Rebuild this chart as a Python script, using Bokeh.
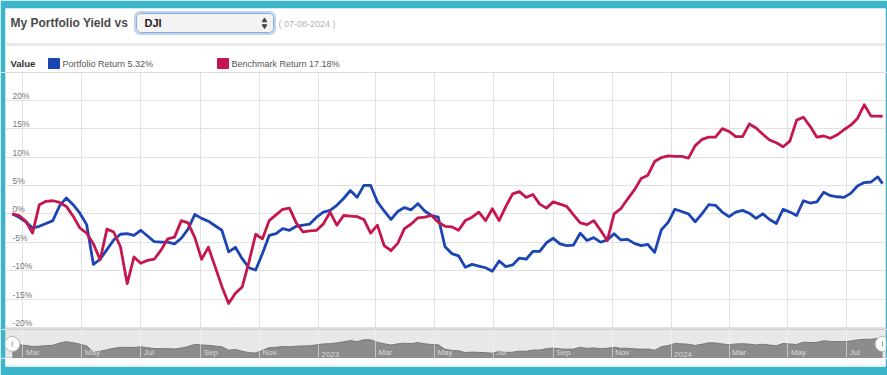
import pandas as pd
from bokeh.plotting import figure
from bokeh.layouts import column
from bokeh.models import Range1d, Grid, FixedTicker, ColumnDataSource
from bokeh.core.properties import value
from bokeh.embed import file_html
from bokeh.resources import INLINE

# ---------------- data ----------------
title_text = "My Portfolio Yield vs"
benchmark_symbol = "DJI"
as_of_text = "( 07-08-2024 )"
series_names = ["Portfolio Return", "Benchmark Return"]

first_week = "2022-02-18"
n_weeks = 129
last_date = "2024-08-07"
dates = list(pd.date_range(first_week, periods=n_weeks, freq="7D")) + [pd.Timestamp(last_date)]

portfolio = [
    0.0, -0.6, -1.4, -2.5, -2.2, -1.7, -1.2, 1.4, 2.8, 1.6,
    0.1, -1.9, -8.9, -8.0, -6.3, -4.6, -3.6, -3.5, -3.8, -2.9,
    -3.9, -4.9, -5.0, -5.0, -5.3, -4.3, -2.7, -0.1, -0.8, -1.3,
    -2.1, -2.9, -6.7, -5.9, -7.9, -9.5, -9.9, -7.0, -3.8, -3.5,
    -2.6, -2.9, -2.2, -2.0, -1.8, -0.6, 0.3, 0.6, 1.5, 2.7,
    4.1, 2.9, 5.0, 5.0, 2.1, 0.5, -1.0, 0.4, 1.1, 0.7,
    1.8, 0.5, -0.3, -0.6, -5.8, -7.0, -7.4, -9.4, -8.9, -9.2,
    -9.5, -10.1, -8.3, -9.3, -9.0, -7.8, -8.0, -6.6, -6.6, -5.1,
    -4.3, -5.3, -5.6, -5.5, -3.4, -4.7, -4.2, -5.0, -4.6, -3.5,
    -4.6, -4.5, -5.2, -5.6, -5.4, -6.8, -2.8, -1.5, 0.8, 0.4,
    0.0, -1.4, 0.0, 1.6, 1.5, 0.3, -0.5, 0.3, 0.6, 0.1,
    -0.8, 0.0, -1.0, -1.7, 0.8, 0.3, -0.3, 2.3, 1.9, 2.1,
    3.8, 3.2, 3.0, 2.9, 3.6, 4.9, 5.5, 5.6, 6.5, 5.32,
]

benchmark = [
    0.0, -0.3, -1.3, -3.4, 1.6, 2.2, 2.3, 2.0, 1.3, -0.4,
    -2.5, -3.4, -5.3, -8.1, -2.7, -3.2, -5.8, -12.3, -7.6, -8.7,
    -8.2, -8.0, -6.4, -4.4, -4.1, -1.2, -1.6, -4.2, -8.0, -5.9,
    -9.3, -12.8, -15.8, -14.0, -12.9, -8.5, -3.6, -4.4, -1.2, -0.2,
    0.8, 1.0, -1.6, -3.2, -3.0, -2.9, -1.8, 0.3, -2.0, -0.3,
    -0.4, -0.5, -1.0, -3.4, -2.0, -5.6, -6.5, -5.2, -2.6, -1.8,
    -0.7, -0.6, -0.3, -1.5, -2.2, -2.3, -2.9, -1.2, -0.6, 0.3,
    -1.2, 0.9, -1.2, 1.3, 3.5, 3.9, 2.9, 3.4, 1.7, 1.0,
    2.1, 1.7, 1.3, -0.2, -1.6, -1.9, -1.2, -2.9, -4.7, 0.0,
    0.9, 2.6, 4.2, 6.2, 6.8, 9.2, 9.9, 10.2, 10.1, 10.1,
    9.8, 12.0, 13.1, 13.5, 13.5, 15.0, 14.5, 13.6, 13.6, 15.8,
    15.1, 14.0, 13.0, 12.5, 11.8, 12.8, 16.5, 17.0, 15.4, 13.5,
    13.7, 13.3, 13.9, 14.8, 15.6, 16.8, 19.2, 17.2, 17.2, 17.18,
]

y_ticks = [-20, -15, -10, -5, 0, 5, 10, 15, 20]
y_tick_labels = ["-20%", "-15%", "-10%", "-5%", "0%", "5%", "10%", "15%", "20%"]

month_tick_dates = [
    "2022-03-01", "2022-05-01", "2022-07-01", "2022-09-01", "2022-11-01",
    "2023-01-01", "2023-03-01", "2023-05-01", "2023-07-01", "2023-09-01",
    "2023-11-01", "2024-01-01", "2024-03-01", "2024-05-01", "2024-07-01",
]
month_tick_labels = ["Mar", "May", "Jul", "Sep", "Nov", "2023", "Mar", "May",
                     "Jul", "Sep", "Nov", "2024", "Mar", "May", "Jul"]

view_start, view_end = "2022-02-11", "2024-08-10"

# ---------------- style ----------------
TEAL = "#3ab5c9"
BLUE = "#1c45b4"
RED = "#c5174e"
GRID = "#e2e2e2"
FONT = value("Liberation Sans")


def ms(d):
    return int(pd.Timestamp(d).timestamp() * 1000)


def no_default_grids(p):
    p.center = [r for r in p.center if not isinstance(r, Grid)]
    return p


month_ms = [ms(d) for d in month_tick_dates]
xr = Range1d(start=ms(view_start), end=ms(view_end))

common = dict(width=887, toolbar_location=None, output_backend="svg",
              min_border_left=5, min_border_right=2, border_fill_color=TEAL,
              x_axis_location=None, y_axis_location=None, title=None)

src = ColumnDataSource(dict(date=dates, portfolio=portfolio, benchmark=benchmark))

# ---------------- header ----------------
hdr = no_default_grids(figure(height=72, min_border_top=8, min_border_bottom=0,
                              x_range=Range1d(5, 885), y_range=Range1d(72, 8),
                              background_fill_color="white", outline_line_color=None, **common))

hdr.segment(x0=[5], y0=[44], x1=[885], y1=[44], line_color="#e9e9e9", line_width=3)
hdr.text(x=[10], y=[22.5], text=[title_text], text_font=FONT, text_font_style="bold",
         text_font_size="12px", text_color="#4a4a4a", text_baseline="middle")
hdr.quad(left=[134.5], right=[274.5], top=[11.5], bottom=[33.5], fill_alpha=0,
         line_color="#bcd4ef", line_width=2, border_radius=5)
hdr.quad(left=[136], right=[273], top=[13], bottom=[32], fill_color="#f3f3f3",
         line_color="#8eaad6", line_width=1, border_radius=4)
hdr.text(x=[144], y=[22.5], text=[benchmark_symbol], text_font=FONT, text_font_style="bold",
         text_font_size="11px", text_color="#222222", text_baseline="middle")
hdr.scatter(x=[264, 264], y=[20, 25.5], marker=["triangle", "inverted_triangle"],
            size=4.5, fill_color="#444444", line_color="#444444")
hdr.text(x=[278], y=[23], text=[as_of_text], text_font=FONT, text_font_size="9px",
         text_color="#b3b3b3", text_baseline="middle")

hdr.text(x=[10], y=[63], text=["Value"], text_font=FONT, text_font_style="bold",
         text_font_size="9.5px", text_color="#333333", text_baseline="middle")
hdr.quad(left=[48, 217], right=[59, 228], top=[58, 58], bottom=[68, 68],
         fill_color=[BLUE, RED], line_color=[BLUE, RED])
legend_texts = [f"{series_names[0]}  {portfolio[-1]:.2f}%",
                f"{series_names[1]}  {benchmark[-1]:.2f}%"]
hdr.text(x=[62, 231], y=[63, 63], text=legend_texts, text_font=FONT,
         text_font_size="9px", text_color="#555555", text_baseline="middle")

# ---------------- main chart ----------------
main = no_default_grids(figure(height=257, min_border_top=0, min_border_bottom=0,
                               x_range=xr, y_range=Range1d(-20.37, 24.88),
                               background_fill_color="white", outline_line_color="#dcdcdc",
                               **common))
main.add_layout(Grid(dimension=0, ticker=FixedTicker(ticks=month_ms), grid_line_color=GRID))
main.add_layout(Grid(dimension=1, ticker=FixedTicker(ticks=y_ticks), grid_line_color=GRID))

main.text(x=[xr.start] * len(y_ticks), y=y_ticks, text=y_tick_labels, x_offset=7, y_offset=-4.5,
          text_font=FONT, text_font_size="8.5px", text_color="#777777", text_baseline="middle")

main.line("date", "portfolio", source=src, line_color=BLUE, line_width=2.8, line_join="round")
main.line("date", "benchmark", source=src, line_color=RED, line_width=2.8, line_join="round")

# ---------------- navigator ----------------
nav_range = Range1d(-16.1, 16.6)
nav = no_default_grids(figure(height=29, min_border_top=0, min_border_bottom=0,
                              x_range=xr, y_range=nav_range,
                              background_fill_color="#e8e8e8", outline_line_color="#d0d0d0",
                              **common))
nav.varea(x="date", y1=nav_range.start, y2="portfolio", source=src, fill_color="#8c8c8c")
nav.line("date", "portfolio", source=src, line_color="#777777", line_width=1)
nav.add_layout(Grid(dimension=0, ticker=FixedTicker(ticks=month_ms), grid_line_color="#f4f4f4",
                    grid_line_alpha=0.55, level="overlay"))
nav.text(x=month_ms, y=[nav_range.start] * len(month_ms), text=month_tick_labels,
         x_offset=3, y_offset=-2, text_baseline="bottom", text_font=FONT,
         text_font_size="8px", text_color="#dadada")
nav_mid = (nav_range.start + nav_range.end) / 2
nav.scatter(x=[dates[0], dates[-1]], y=[nav_mid, nav_mid], size=15,
            fill_color="white", line_color="#b5b5b5")
nav.scatter(x=[dates[0], dates[-1]], y=[nav_mid, nav_mid], marker="dash", angle=1.5708,
            size=5, line_color="#999999")

# ---------------- footer ----------------
ftr = no_default_grids(figure(height=17, min_border_top=0, min_border_bottom=9,
                              x_range=Range1d(5, 885), y_range=Range1d(0, 8),
                              background_fill_color="white", outline_line_color=None, **common))
ftr.segment(x0=[5], y0=[1], x1=[885], y1=[1], line_color="#f0f0f0", line_width=2)

layout = column(hdr, main, nav, ftr, spacing=0)

open("out.html", "w").write(file_html(layout, INLINE))
